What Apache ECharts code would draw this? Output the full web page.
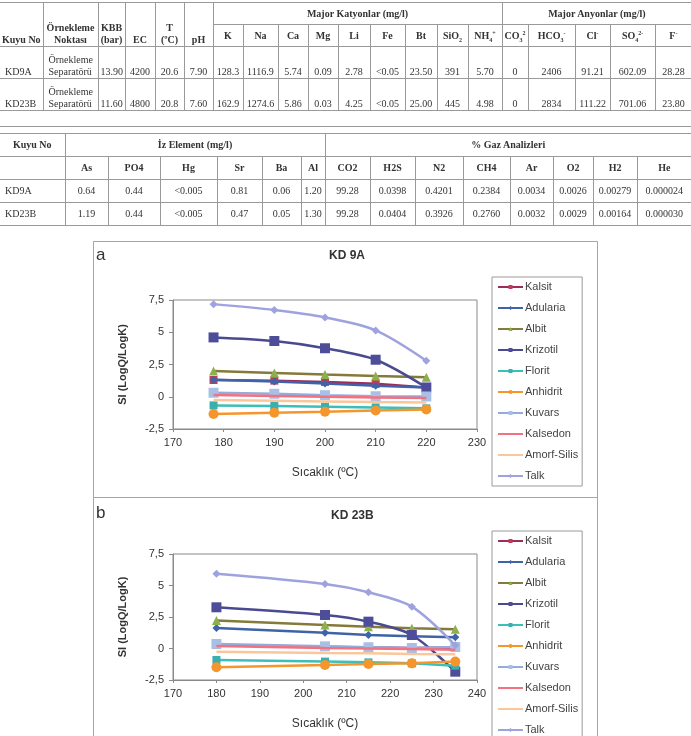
<!DOCTYPE html>
<html>
<head>
<meta charset="utf-8">
<script src="https://cdn.jsdelivr.net/npm/echarts@6/dist/echarts.min.js"></script>
<style>
html,body{margin:0;padding:0;background:#fff;width:691px;height:736px;overflow:hidden;}
#chart{position:absolute;left:0;top:0;width:691px;height:736px;}
table.t{position:absolute;left:0;border-collapse:collapse;table-layout:fixed;font-family:"Liberation Serif","DejaVu Serif",serif;font-size:10px;color:#333;}
table.t td{border:1px solid #9a9a9a;padding:0 2px;text-align:center;vertical-align:bottom;white-space:nowrap;overflow:hidden;line-height:12px;}
table.t tr td:first-child{border-left:none;}
table.t tr td:last-child{border-right:none;}
table.t td.h{font-weight:bold;}
table.t td.l{text-align:left;padding-left:5px;}
table.t td.vm{vertical-align:middle;}
sup,sub{font-size:6px;line-height:0;}
#sep{position:absolute;left:0;top:126px;width:691px;height:0;border-top:1px solid #9a9a9a;}
</style>
</head>
<body>
<div id="chart"></div>
<div id="tables"></div>
<div id="sep"></div>
<script>
// ---------- table data ----------
const t1Head = ['Kuyu No','Örnekleme<br>Noktası','KBB<br>(bar)','EC','T<br>(ºC)','pH'];
const t1Cations = ['K','Na','Ca','Mg','Li','Fe','Bt','SiO<sub>2</sub>','NH<sub>4</sub><sup>+</sup>'];
const t1Anions = ['CO<sub>3</sub><sup>2</sup>','HCO<sub>3</sub><sup>-</sup>','Cl<sup>-</sup>','SO<sub>4</sub><sup>2-</sup>','F<sup>-</sup>'];
const t1RowKD9A = ['KD9A','Örnekleme<br>Separatörü','13.90','4200','20.6','7.90','128.3','1116.9','5.74','0.09','2.78','<0.05','23.50','391','5.70','0','2406','91.21','602.09','28.28'];
const t1RowKD23B = ['KD23B','Örnekleme<br>Separatörü','11.60','4800','20.8','7.60','162.9','1274.6','5.86','0.03','4.25','<0.05','25.00','445','4.98','0','2834','111.22','701.06','23.80'];
const t2Trace = ['As','PO4','Hg','Sr','Ba','Al'];
const t2Gas = ['CO2','H2S','N2','CH4','Ar','O2','H2','He'];
const t2RowKD9A = ['KD9A','0.64','0.44','<0.005','0.81','0.06','1.20','99.28','0.0398','0.4201','0.2384','0.0034','0.0026','0.00279','0.000024'];
const t2RowKD23B = ['KD23B','1.19','0.44','<0.005','0.47','0.05','1.30','99.28','0.0404','0.3926','0.2760','0.0032','0.0029','0.00164','0.000030'];

// ---------- chart data ----------
const minerals = ['Kalsit','Adularia','Albit','Krizotil','Florit','Anhidrit','Kuvars','Kalsedon','Amorf-Silis','Talk'];
const tempA = [178, 190, 200, 210, 220];
const tempB = [180, 205, 215, 225, 235];
// KD 9A saturation indices
const a_kalsit    = [1.30, 1.25, 1.15, 1.00, 0.72];
const a_adularia  = [1.32, 1.18, 1.02, 0.86, 0.72];
const a_albit     = [2.00, 1.85, 1.72, 1.60, 1.52];
const a_krizotil  = [4.60, 4.32, 3.76, 2.87, 0.72];
const a_florit    = [-0.67, -0.72, -0.78, -0.83, -0.90];
const a_anhidrit  = [-1.34, -1.24, -1.16, -1.06, -0.98];
const a_kuvars    = [0.31, 0.23, 0.12, 0.04, 0.02];
const a_kalsedon  = [0.13, 0.06, 0.00, -0.05, -0.10];
const a_amorf     = [-0.26, -0.31, -0.36, -0.41, -0.45];
const a_talk      = [7.18, 6.72, 6.15, 5.14, 2.79];
// KD 23B saturation indices
const b_kalsit    = [0.28, 0.14, 0.08, 0.03, 0.05];
const b_adularia  = [1.62, 1.25, 1.07, 0.98, 0.89];
const b_albit     = [2.22, 1.86, 1.72, 1.60, 1.52];
const b_krizotil  = [3.27, 2.66, 2.13, 1.07, -1.84];
const b_florit    = [-0.91, -1.04, -1.10, -1.18, -1.36];
const b_anhidrit  = [-1.49, -1.31, -1.23, -1.18, -1.04];
const b_kuvars    = [0.36, 0.17, 0.10, 0.04, 0.12];
const b_kalsedon  = [0.20, 0.04, 0.00, -0.04, -0.09];
const b_amorf     = [-0.25, -0.35, -0.38, -0.43, -0.46];
const b_talk      = [5.93, 5.12, 4.46, 3.32, 0.25];
const yTicks = ['-2,5','0','2,5','5','7,5'];

const seriesA = [a_kalsit,a_adularia,a_albit,a_krizotil,a_florit,a_anhidrit,a_kuvars,a_kalsedon,a_amorf,a_talk];
const seriesB = [b_kalsit,b_adularia,b_albit,b_krizotil,b_florit,b_anhidrit,b_kuvars,b_kalsedon,b_amorf,b_talk];

// ---------- tables ----------
function td(txt, cls, extra){ return '<td' + (cls?' class="'+cls+'"':'') + (extra||'') + '>' + txt + '</td>'; }
function esc(s){ return s.replace(/</g,'&lt;').replace(/&lt;br>/g,'<br>'); }
const w1 = [43,55,27,30,29,29,30,35,30,30,32,35,32,31,34,26,47,35,45,36];
let h1 = '<table class="t" style="top:2px;width:691px"><colgroup>' + w1.map(w=>'<col style="width:'+w+'px">').join('') + '</colgroup>';
h1 += '<tr style="height:22px">' + t1Head.map(h=>td(h,'h',' rowspan="2"')).join('') +
      td('Major Katyonlar (mg/l)','h vm',' colspan="9"') + td('Major Anyonlar (mg/l)','h vm',' colspan="5"') + '</tr>';
h1 += '<tr style="height:22px">' + t1Cations.concat(t1Anions).map(h=>td(h,'h vm')).join('') + '</tr>';
[t1RowKD9A,t1RowKD23B].forEach(r=>{
  h1 += '<tr style="height:32px">' + r.map((v,i)=>td(esc(v), i<2?'l':'')).join('') + '</tr>';
});
h1 += '</table>';
const w2 = [65,43,52,57,45,39,24,45,45,48,47,43,40,44,54];
let h2 = '<table class="t" style="top:133px;width:691px"><colgroup>' + w2.map(w=>'<col style="width:'+w+'px">').join('') + '</colgroup>';
h2 += '<tr style="height:23px">' + td('Kuyu No','h vm') + td('İz Element (mg/l)','h vm',' colspan="6"') + td('% Gaz Analizleri','h vm',' colspan="8"') + '</tr>';
h2 += '<tr style="height:23px">' + td('','') + t2Trace.concat(t2Gas).map(h=>td(h,'h vm')).join('') + '</tr>';
[t2RowKD9A,t2RowKD23B].forEach(r=>{
  h2 += '<tr style="height:23px">' + r.map((v,i)=>td(esc(v), i===0?'l vm':'vm')).join('') + '</tr>';
});
h2 += '</table>';
document.getElementById('tables').innerHTML = h1 + h2;

// ---------- chart ----------
const styles = [
  {line:'#9B2D5A', mark:'#C63A55', sym:'rect', size:8, smooth:false},
  {line:'#3F63A8', mark:'#3F63A8', sym:'diamond', size:8, smooth:false},
  {line:'#857A3A', mark:'#8DB04A', sym:'triangle', size:9, smooth:false},
  {line:'#4A4A90', mark:'#4D4D9A', sym:'rect', size:10, smooth:0.3},
  {line:'#3CBFB8', mark:'#3AAFB0', sym:'rect', size:8, smooth:false},
  {line:'#F5962C', mark:'#F5962C', sym:'circle', size:10, smooth:false},
  {line:'#93ACDD', mark:'#A8C0E6', sym:'rect', size:10, smooth:false},
  {line:'#F2727F', mark:'#F2727F', sym:'none', size:0, smooth:false},
  {line:'#FBC79A', mark:'#FBC79A', sym:'none', size:0, smooth:false},
  {line:'#9EA3DE', mark:'#9EA3DE', sym:'diamond', size:8, smooth:0.3}
];
const font = '"Liberation Sans", Arial, sans-serif';
function makeSeries(vals, temps, idx){
  return vals.map((arr,i)=>({
    name: minerals[i], type:'line', xAxisIndex: idx, yAxisIndex: idx,
    data: arr.map((v,j)=>[temps[j], v]),
    symbol: styles[i].sym, symbolSize: styles[i].size, smooth: styles[i].smooth,
    showSymbol: styles[i].sym !== 'none',
    lineStyle:{color: styles[i].line, width: 2.5},
    itemStyle:{color: styles[i].mark, borderColor: styles[i].mark, borderWidth: 0},
    emphasis:{disabled:true}, animation:false, z: 2 + i
  }));
}
function xAxis(idx, max){
  return {type:'value', gridIndex: idx, min:170, max:max, interval:10,
    name:'Sıcaklık (ºC)', nameLocation:'middle', nameGap:38,
    nameTextStyle:{fontFamily:font, fontSize:12, color:'#333'},
    axisLine:{show:true, onZero:false, lineStyle:{color:'#8a8a8a'}},
    axisTick:{show:true, length:3, lineStyle:{color:'#8a8a8a'}},
    axisLabel:{fontFamily:font, fontSize:11, color:'#333', margin:8},
    splitLine:{show:false}};
}
function yAxis(idx){
  return {type:'value', gridIndex: idx, min:-2.5, max:7.5, interval:2.5,
    name:'SI (LogQ/LogK)', nameLocation:'middle', nameGap:45, nameRotate:90,
    nameTextStyle:{fontFamily:font, fontSize:11, fontWeight:'bold', color:'#333'},
    axisLine:{show:true, onZero:false, lineStyle:{color:'#8a8a8a'}},
    axisTick:{show:true, length:4, lineStyle:{color:'#8a8a8a'}},
    axisLabel:{fontFamily:font, fontSize:11, color:'#333', margin:9,
      formatter: v => yTicks[Math.round((v + 2.5) / 2.5)]},
    splitLine:{show:false}};
}
function legend(top){
  return {orient:'vertical', left:492, top: top, width:100, height:260,
    data: minerals.map((m,i)=> styles[i].sym === 'none' ? {name:m, itemStyle:{opacity:0}} : {name:m}),
    itemWidth:25, itemHeight:5, itemGap:9, padding:[4,4,4,5],
    borderColor:'#9a9a9a', borderWidth:1, selectedMode:false,
    textStyle:{fontFamily:font, fontSize:11, color:'#444', lineHeight:12, padding:[0,0,0,-3]}};
}
const chart = echarts.init(document.getElementById('chart'), null, {renderer:'canvas'});
chart.setOption({
  animation:false,
  title:[
    {text:'a', left:96, top:247, padding:0, textStyle:{fontFamily:font, fontSize:17, fontWeight:'normal', color:'#333'}},
    {text:'KD 9A', left:329, top:250, padding:0, textStyle:{fontFamily:font, fontSize:12, fontWeight:'bold', color:'#333'}},
    {text:'b', left:96, top:505, padding:0, textStyle:{fontFamily:font, fontSize:17, fontWeight:'normal', color:'#333'}},
    {text:'KD 23B', left:331, top:510, padding:0, textStyle:{fontFamily:font, fontSize:12, fontWeight:'bold', color:'#333'}}
  ],
  graphic:[
    {type:'rect', shape:{x:93.5, y:241.5, width:504, height:256}, style:{fill:'none', stroke:'#a5a5a5', lineWidth:1}, silent:true},
    {type:'rect', shape:{x:93.5, y:497.5, width:504, height:260}, style:{fill:'none', stroke:'#a5a5a5', lineWidth:1}, silent:true}
  ],
  grid:[
    {left:173, top:300, width:304, height:129, show:true, borderColor:'#8a8a8a', borderWidth:1, backgroundColor:'transparent'},
    {left:173, top:554, width:304, height:126, show:true, borderColor:'#8a8a8a', borderWidth:1, backgroundColor:'transparent'}
  ],
  xAxis:[xAxis(0,230), xAxis(1,240)],
  yAxis:[yAxis(0), yAxis(1)],
  legend:[legend(277), legend(531)],
  tooltip:{show:false},
  series: makeSeries(seriesA, tempA, 0).concat(makeSeries(seriesB, tempB, 1))
});
</script>
</body>
</html>
